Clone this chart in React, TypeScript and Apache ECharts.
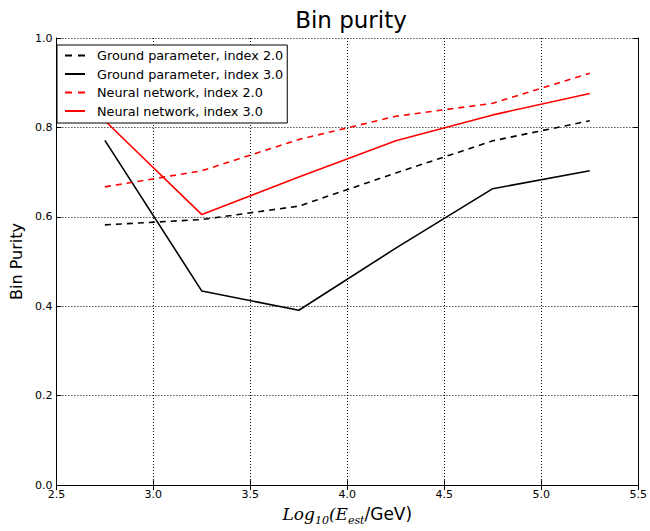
import React, { useEffect, useRef } from "react";
import * as echarts from "echarts";

// Energy bin centres, log10(E_est / GeV)
const energyBins = [2.75, 3.25, 3.75, 4.25, 4.75, 5.25];

// Bin purity per method and spectral index
const groundIndex2 = [0.582, 0.594, 0.624, 0.698, 0.77, 0.815];
const groundIndex3 = [0.771, 0.434, 0.391, 0.53, 0.663, 0.703];
const neuralIndex2 = [0.667, 0.703, 0.773, 0.825, 0.854, 0.921];
const neuralIndex3 = [0.815, 0.605, 0.689, 0.77, 0.828, 0.876];

const seriesNames = [
  "Ground parameter, index 2.0",
  "Ground parameter, index 3.0",
  "Neural network, index 2.0",
  "Neural network, index 3.0",
];

const xTicks = { min: 2.5, max: 5.5, interval: 0.5 };
const yTicks = { min: 0, max: 1, interval: 0.2 };

const SANS = "DejaVu Sans";

// Legend key glyphs: a short dashed stroke and a solid stroke
const DASHED_KEY = "path://M0,0H7V2H0Z M13,0H20V2H13Z";
const SOLID_KEY = "path://M0,0H20V2H0Z";

function pairs(values: number[]) {
  return values.map((v, i) => [energyBins[i], v]);
}

export default function App() {
  const ref = useRef<HTMLDivElement>(null);

  useEffect(() => {
    if (!ref.current) return;
    const chart = echarts.init(ref.current, null, { renderer: "svg" });

    const line = (
      name: string,
      values: number[],
      color: string,
      dashed: boolean
    ) => ({
      name,
      type: "line",
      data: pairs(values),
      showSymbol: false,
      symbol: "none",
      lineStyle: {
        color,
        width: 1.6,
        type: dashed ? [6, 5] : "solid",
      },
      itemStyle: { color },
      z: 3,
    });

    const gridLine = {
      show: true,
      lineStyle: { color: "#000", width: 1, type: [1, 2] },
    };

    chart.setOption({
      animation: false,
      backgroundColor: "#fff",
      title: {
        text: "Bin purity",
        left: 346,
        top: 3,
        textAlign: "center",
        textStyle: {
          fontFamily: SANS,
          fontSize: 23,
          fontWeight: "normal",
          color: "#000",
        },
      },
      grid: { left: 50, top: 38, right: 8.5, bottom: 34.5 },
      legend: {
        left: 57,
        top: 45,
        orient: "vertical",
        itemWidth: 20,
        itemHeight: 2,
        itemGap: 5.5,
        padding: [4, 4, 5.5, 8],
        backgroundColor: "#fff",
        borderColor: "#000",
        borderWidth: 1,
        data: [
          { name: seriesNames[0], icon: DASHED_KEY },
          { name: seriesNames[1], icon: SOLID_KEY },
          { name: seriesNames[2], icon: DASHED_KEY },
          { name: seriesNames[3], icon: SOLID_KEY },
        ],
        textStyle: {
          fontFamily: SANS,
          fontSize: 12.8,
          color: "#000",
          padding: [0, 0, 0, 7],
        },
        z: 10,
      },
      xAxis: [
        {
          type: "value",
          min: xTicks.min,
          max: xTicks.max,
          interval: xTicks.interval,
          name: "{m|Log}{s|10}{m|(E}{s|est}{n|/GeV)}",
          nameLocation: "middle",
          nameGap: 18,
          nameTextStyle: {
            rich: {
              m: {
                fontFamily: "DejaVu Serif",
                fontStyle: "italic",
                fontSize: 17,
                color: "#000",
                verticalAlign: "bottom",
              },
              s: {
                fontFamily: "DejaVu Serif",
                fontStyle: "italic",
                fontSize: 11,
                color: "#000",
                verticalAlign: "bottom",
                padding: [0, 0, -4, 0],
              },
              n: {
                fontFamily: SANS,
                fontSize: 17,
                color: "#000",
                verticalAlign: "bottom",
              },
            },
          },
          axisLine: { show: true, lineStyle: { color: "#000", width: 1 } },
          axisTick: { show: true, inside: true, length: 5, lineStyle: { color: "#000" } },
          axisLabel: {
            fontFamily: SANS,
            fontSize: 11,
            color: "#000",
            margin: 4,
            formatter: (v: number) => v.toFixed(1),
          },
          splitLine: gridLine,
        },
        {
          type: "value",
          position: "top",
          min: xTicks.min,
          max: xTicks.max,
          interval: xTicks.interval,
          axisLine: { show: true, lineStyle: { color: "#000", width: 1 } },
          axisTick: { show: true, inside: true, length: 5, lineStyle: { color: "#000" } },
          axisLabel: { show: false },
          splitLine: { show: false },
        },
      ],
      yAxis: [
        {
          type: "value",
          min: yTicks.min,
          max: yTicks.max,
          interval: yTicks.interval,
          name: "Bin Purity",
          nameLocation: "middle",
          nameGap: 26,
          nameTextStyle: { fontFamily: SANS, fontSize: 16, color: "#000" },
          axisLine: { show: true, lineStyle: { color: "#000", width: 1 } },
          axisTick: { show: true, inside: true, length: 5, lineStyle: { color: "#000" } },
          axisLabel: {
            fontFamily: SANS,
            fontSize: 11,
            color: "#000",
            margin: 4,
            formatter: (v: number) => v.toFixed(1),
          },
          splitLine: gridLine,
        },
        {
          type: "value",
          position: "right",
          min: yTicks.min,
          max: yTicks.max,
          interval: yTicks.interval,
          axisLine: { show: true, lineStyle: { color: "#000", width: 1 } },
          axisTick: { show: true, inside: true, length: 5, lineStyle: { color: "#000" } },
          axisLabel: { show: false },
          splitLine: { show: false },
        },
      ],
      series: [
        line(seriesNames[0], groundIndex2, "#000000", true),
        line(seriesNames[1], groundIndex3, "#000000", false),
        line(seriesNames[2], neuralIndex2, "#ff0000", true),
        line(seriesNames[3], neuralIndex3, "#ff0000", false),
      ],
    });

    return () => chart.dispose();
  }, []);

  return (
    <div
      ref={ref}
      style={{ position: "absolute", left: 0, top: 0, width: 650, height: 531 }}
    />
  );
}
